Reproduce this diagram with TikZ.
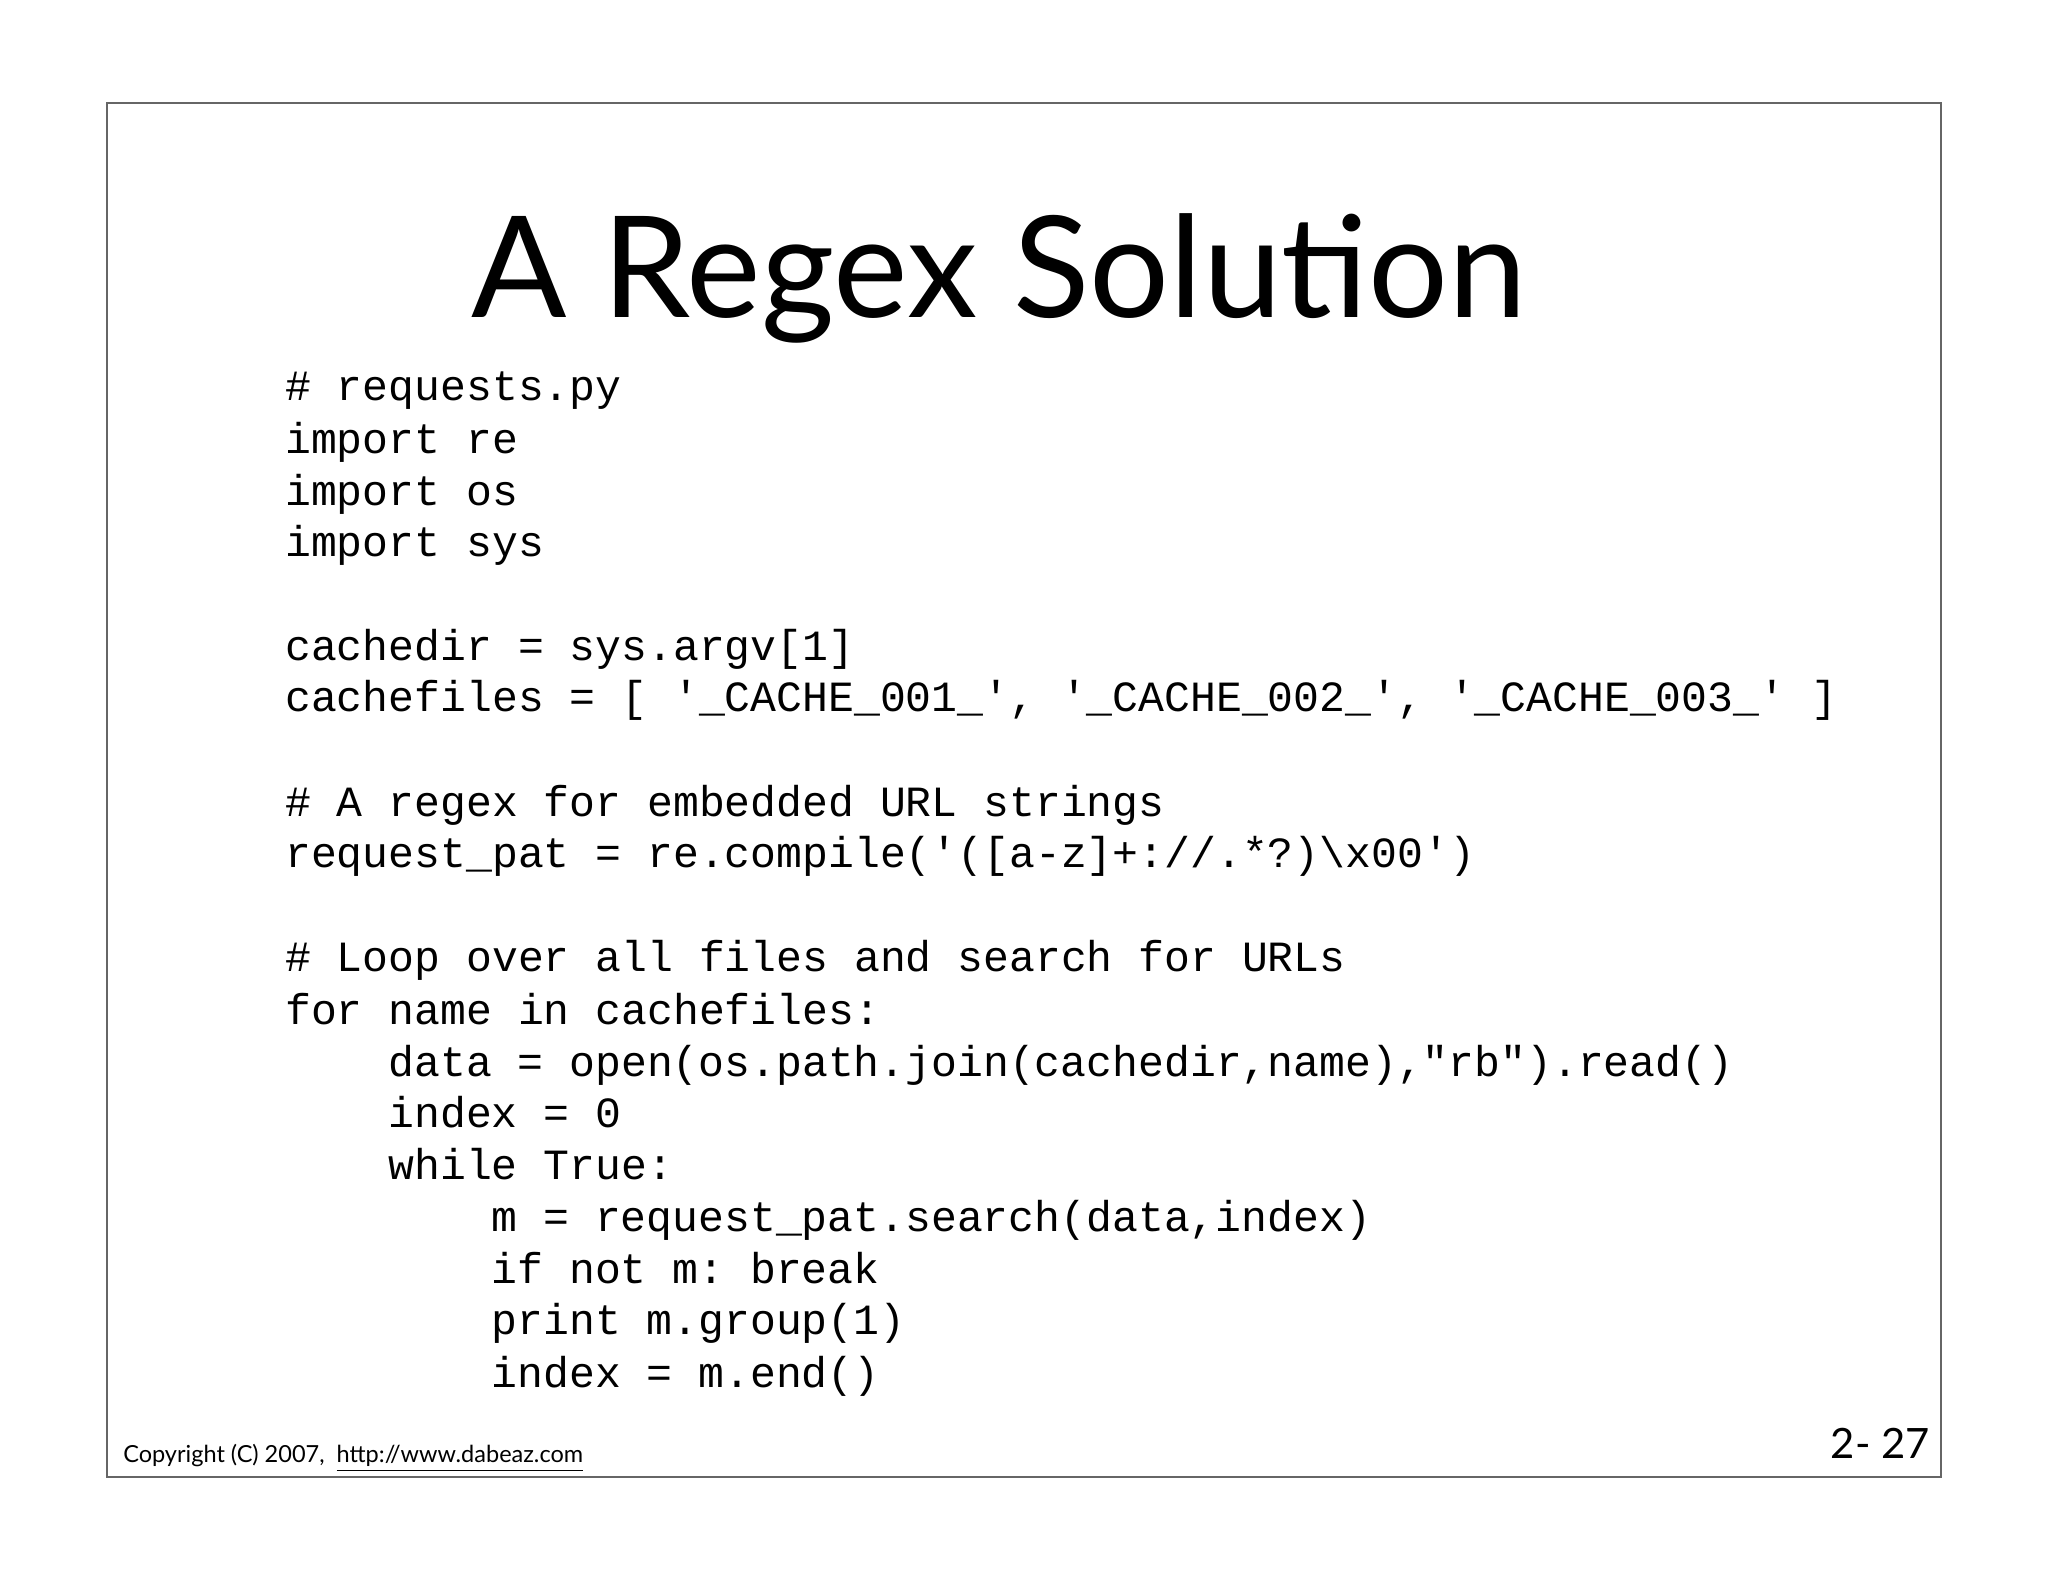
\documentclass[tikz,border=0pt]{standalone}
\usepackage{fontspec}
\setmainfont{Lato}
\setmonofont{Liberation Mono}
\begin{document}
\begin{tikzpicture}[x=0.5pt,y=-0.5pt,
  codeline/.style={anchor=base west,inner sep=0pt,font=\ttfamily\fontsize{16.5}{20}\selectfont}]
\useasboundingbox (0,0) rectangle (1568,1211);
\fill[white] (0,0) rectangle (1568,1211);
\draw[line width=0.6pt,black!60] (82,79) rectangle (1486,1131);
\node[anchor=base,inner sep=0pt,font=\fontsize{54}{56}\selectfont] (title) at (765,243) {A Regex Solut{}ion};
\node[codeline] (l0) at (218,307) {\#{} requests.py};
\node[codeline] (l1) at (218,347) {import re};
\node[codeline] (l2) at (218,387) {import os};
\node[codeline] (l3) at (218,426) {import sys};
\node[codeline] (l5) at (218,506) {cachedir = sys.argv[1]};
\node[codeline] (l6) at (218,545) {cachefiles = [ '\_CACHE\_001\_', '\_CACHE\_002\_', '\_CACHE\_003\_' ]};
\node[codeline] (l8) at (218,625) {\#{} A regex for embedded URL strings};
\node[codeline] (l9) at (218,664) {request\_pat = re.compile('([a-z]+://.*?)\textbackslash x00')};
\node[codeline] (l11) at (218,744) {\#{} Loop over all files and search for URLs};
\node[codeline] (l12) at (218,784) {for name in cachefiles:};
\node[codeline] (l13) at (297,824) {data = open(os.path.join(cachedir,name),"rb").read()};
\node[codeline] (l14) at (297,863) {index = 0};
\node[codeline] (l15) at (297,903) {while True:};
\node[codeline] (l16) at (376,943) {m = request\_pat.search(data,index)};
\node[codeline] (l17) at (376,983) {if not m: break};
\node[codeline] (l18) at (376,1022) {print m.group(1)};
\node[codeline] (l19) at (376,1062) {index = m.end()};
\node[anchor=base west,inner sep=0pt,font=\fontsize{9}{11}\selectfont] (copy) at (94,1120) {Copyright (C) 2007,\ \ \underline{http://www.dabeaz.com}};
\node[anchor=base east,inner sep=0pt,font=\fontsize{16}{20}\selectfont] (num) at (1478,1117) {2- 27};
\end{tikzpicture}
\end{document}
